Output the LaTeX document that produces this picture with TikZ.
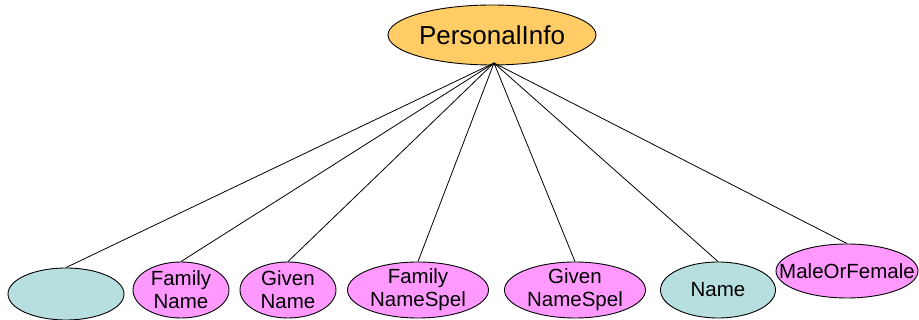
\documentclass[tikz,border=0pt]{standalone}
\usepackage{fontspec}
\setmainfont{Liberation Sans}
\usetikzlibrary{shapes.geometric}
\definecolor{orangefill}{HTML}{FFCC66}
\definecolor{cyanfill}{HTML}{B8DFE0}
\definecolor{pinkfill}{HTML}{FF99FF}
\begin{document}
\begin{tikzpicture}[x=1pt,y=1pt,
  ell/.style={ellipse, draw=black, line width=0.9pt, inner sep=-40pt, align=center,
    font=\fontsize{20.5}{23}\selectfont},
  cyanell/.style={ell, fill=cyanfill},
  pinkell/.style={ell, fill=pinkfill},
  link/.style={draw=black, line width=0.8pt}]
\useasboundingbox (0,0) rectangle (919,320);
\node[ell, fill=orangefill, minimum width=208, minimum height=60,
  font=\fontsize{26}{30}\selectfont] (top) at (492,285) {PersonalInfo};
\node[cyanell, minimum width=116, minimum height=52] (n1) at (66,26) {};
\node[pinkell, minimum width=96, minimum height=56] (n2) at (181,30) {Family\\Name};
\node[pinkell, minimum width=96, minimum height=56] (n3) at (288,30) {Given\\Name};
\node[pinkell, minimum width=141, minimum height=56] (n4) at (418,30) {Family\\NameSpel};
\node[pinkell, minimum width=141, minimum height=56] (n5) at (575,30) {Given\\NameSpel};
\node[cyanell, minimum width=115, minimum height=56] (n6) at (718,30) {Name};
\node[pinkell, minimum width=142, minimum height=54] (n7) at (847,49) {MaleOrFemale};
\coordinate (hub) at (494,257);
\foreach \n in {n1,n2,n3,n4,n5,n6,n7} \draw[link] (hub) -- (\n.north);
\end{tikzpicture}
\end{document}
